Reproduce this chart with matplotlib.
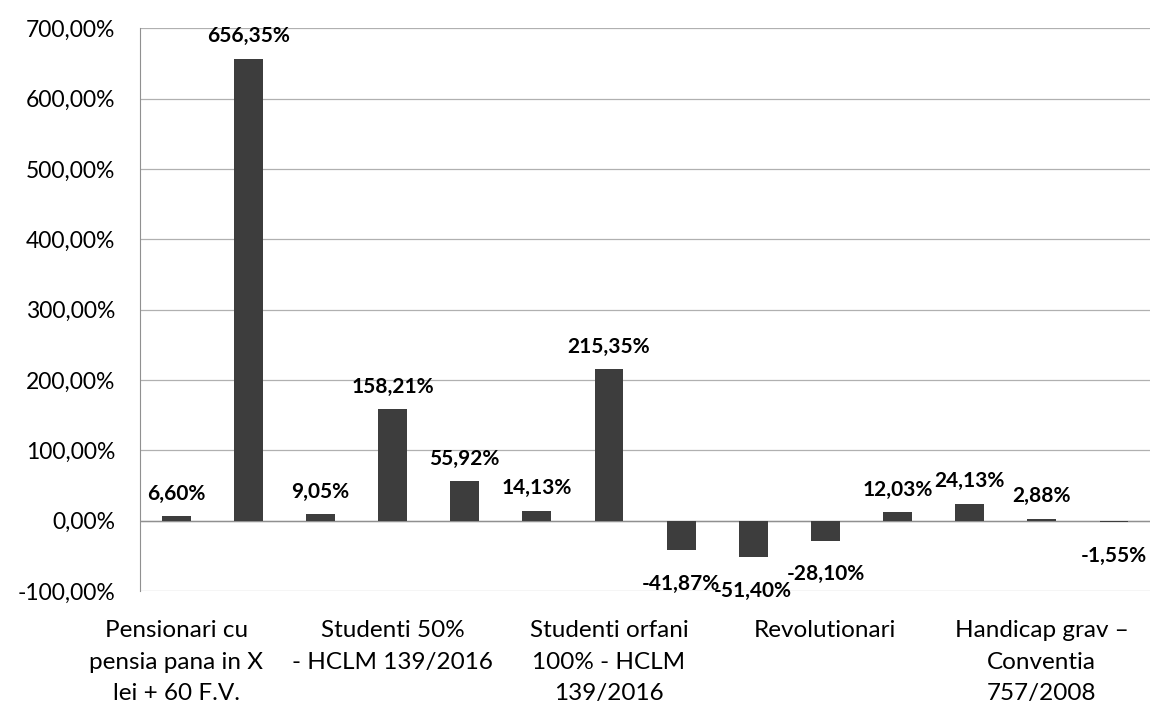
import numpy as np
import matplotlib
matplotlib.use("Agg")
import matplotlib.pyplot as plt
from matplotlib.ticker import FuncFormatter, MultipleLocator

# valori (%) - 14 categorii, eticheta afisata doar la fiecare a 3-a
valori = [6.60, 656.35, 9.05, 158.21, 55.92, 14.13, 215.35,
          -41.87, -51.40, -28.10, 12.03, 24.13, 2.88, -1.55]
etichete = ["Pensionari cu\npensia pana in X\nlei + 60 F.V.",
            "Studenti 50%\n- HCLM 139/2016",
            "Studenti orfani\n100% - HCLM\n139/2016",
            "Revolutionari",
            "Handicap grav \u2013\nConventia\n757/2008"]

plt.rcParams['font.family'] = ['Lato', 'DejaVu Sans']

fig = plt.figure(figsize=(11.57, 7.21), dpi=100)
ax = fig.add_axes([0.121, 0.180, 0.873, 0.781])

x = np.arange(len(valori))
ax.bar(x, valori, width=0.4, color="#3d3d3d", zorder=3)

def fmt(v):
    return f"{v:.2f}".replace(".", ",") + "%"

for xi, v in zip(x, valori):
    if v >= 0:
        ax.annotate(fmt(v), (xi, v), xytext=(0, 9), textcoords="offset points",
                    ha="center", va="bottom", fontsize=15, fontweight="bold")
    else:
        ax.annotate(fmt(v), (xi, v), xytext=(0, -17), textcoords="offset points",
                    ha="center", va="top", fontsize=15, fontweight="bold")

ax.set_xlim(-0.5, len(valori) - 0.5)
ax.set_ylim(-100, 700)
ax.yaxis.set_major_locator(MultipleLocator(100))
ax.yaxis.set_major_formatter(FuncFormatter(lambda v, p: f"{v:.2f}".replace(".", ",") + "%"))
ax.set_xticks(x[::3])
ax.set_xticklabels(etichete, fontsize=17.5, linespacing=1.6)
ax.tick_params(axis="y", length=0, pad=18, labelsize=16.5)
ax.tick_params(axis="x", length=0, pad=21)

ax.grid(axis="y", color="#b0b0b0", linewidth=0.9, zorder=0)
ax.axhline(0, color="#909090", linewidth=1.0, zorder=2)
for s in ["top", "right", "bottom"]:
    ax.spines[s].set_visible(False)
ax.spines["left"].set_color("#909090")

fig.savefig("out.png", dpi=100)
